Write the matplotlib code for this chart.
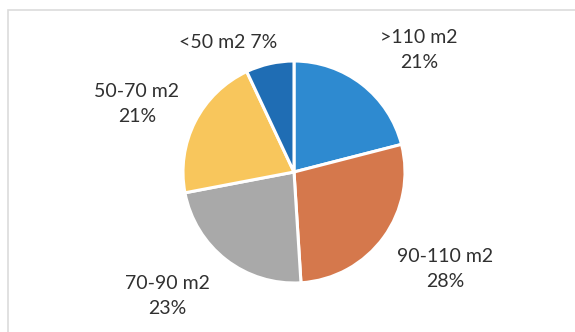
import matplotlib.pyplot as plt
from matplotlib.patches import Rectangle

# udział mieszkań wg powierzchni
kategorie = [">110 m2", "90-110 m2", "70-90 m2", "50-70 m2", "<50 m2"]
udzialy = [21, 28, 23, 21, 7]
kolory = ["#2E8AD0", "#D5784C", "#A9A9A9", "#F8C65C", "#1F6DB4"]

# pozycje etykiet (piksele) i układ tekstu
etykiety_xy = [(419, 282), (445, 63), (167, 36), (137, 228), (228, 290)]
etykiety_tekst = [
    f"{kategorie[0]}\n{udzialy[0]}%",
    f"{kategorie[1]}\n{udzialy[1]}%",
    f"{kategorie[2]}\n{udzialy[2]}%",
    f"{kategorie[3]}\n{udzialy[3]}%",
    f"{kategorie[4]} {udzialy[4]}%",
]

fig = plt.figure(figsize=(5.75, 3.32), dpi=100)
ax = fig.add_axes([0, 0, 1, 1])

ax.pie(udzialy, colors=kolory, startangle=90, counterclock=False,
       center=(294, 160), radius=111, frame=True,
       wedgeprops=dict(edgecolor="white", linewidth=2.2))
ax.set_xlim(0, 575)
ax.set_ylim(0, 332)
ax.set_aspect("equal")
ax.axis("off")

for (x, y), t in zip(etykiety_xy, etykiety_tekst):
    ax.text(x, y, t, ha="center", va="center", fontsize=14,
            family="Lato", color="#303030", linespacing=1.55)

# ramka wykresu
ax.add_patch(Rectangle((8, -5), 580, 327, fill=False, edgecolor="#dcdcdc",
                       linewidth=1.2))

fig.savefig("out.png", dpi=100, facecolor="white")
